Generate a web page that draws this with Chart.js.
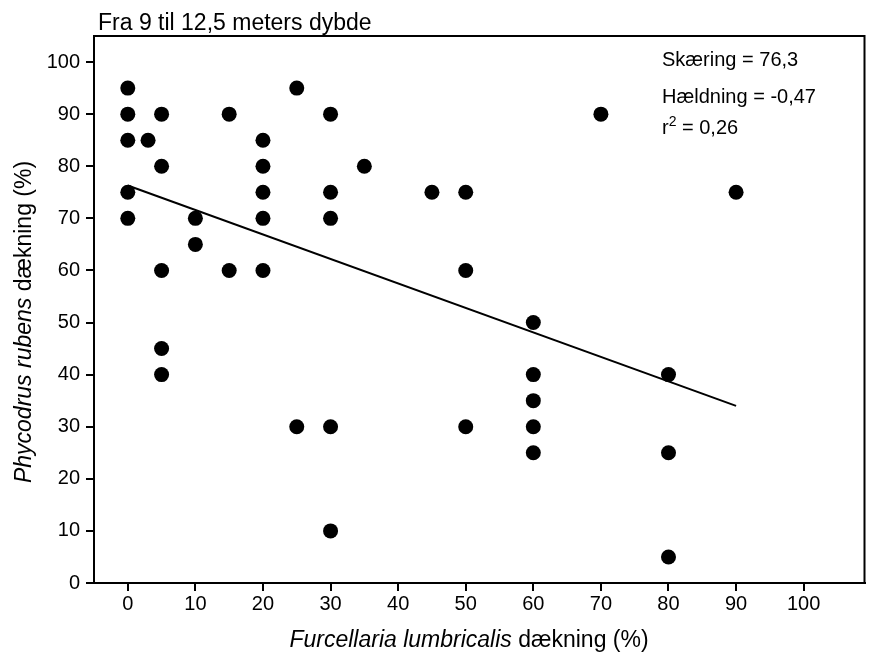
<!DOCTYPE html>
<html>
<head>
<meta charset="utf-8">
<script src="https://cdn.jsdelivr.net/npm/chart.js@4/dist/chart.umd.min.js"></script>
<style>
  body { margin: 0; background: #fff; }
  #wrap { width: 872px; height: 657px; }
</style>
</head>
<body>
<div id="wrap"><canvas id="chart" width="872" height="657"></canvas></div>
<script>
// dækning i procent
const furcellaria = [0, 0, 0, 0, 0, 3, 5, 5, 5, 5, 5, 10, 10, 15, 15, 20, 20, 20, 20, 20,
    25, 25, 30, 30, 30, 30, 30, 35, 45, 50, 50, 50, 60, 60, 60, 60, 60, 70, 80, 80, 80, 90];
const phycodrus = [95, 90, 85, 75, 70, 85, 90, 80, 60, 45, 40, 70, 65, 90, 60, 85, 80, 75, 70, 60,
    95, 30, 90, 75, 70, 30, 10, 80, 75, 75, 60, 30, 50, 40, 35, 30, 25, 90, 40, 25, 5, 75];

// regressionslinje (endepunkter)
const fitX = [0, 90];
const fitY = [76.3, 34.0];

const xTickValues = [0, 10, 20, 30, 40, 50, 60, 70, 80, 90, 100];
const yTickValues = [0, 10, 20, 30, 40, 50, 60, 70, 80, 90, 100];

const titleText = "Fra 9 til 12,5 meters dybde";
const statLines = ["Skæring = 76,3", "Hældning = -0,47"];
const r2Text = " = 0,26";

const FONT = '"Liberation Sans", Arial, Helvetica, sans-serif';

// tekst med blandet kursiv/normal
function drawParts(ctx, parts, size) {
    let w = 0;
    parts.forEach(p => {
        ctx.font = (p.italic ? "italic " : "") + size + "px " + FONT;
        w += ctx.measureText(p.text).width;
    });
    let x = -w / 2;
    parts.forEach(p => {
        ctx.font = (p.italic ? "italic " : "") + size + "px " + FONT;
        ctx.fillText(p.text, x, 0);
        x += ctx.measureText(p.text).width;
    });
}

const decorations = {
    id: "decorations",
    afterDraw(chart) {
        const ctx = chart.ctx;
        const a = chart.chartArea;
        ctx.save();
        ctx.strokeStyle = "#000";
        ctx.lineWidth = 2;
        ctx.strokeRect(a.left, a.top, a.right - a.left, a.bottom - a.top);

        ctx.fillStyle = "#000";
        ctx.textBaseline = "alphabetic";
        ctx.textAlign = "left";
        ctx.font = "23px " + FONT;
        ctx.fillText(titleText, 98, 30);

        ctx.font = "20px " + FONT;
        ctx.fillText(statLines[0], 662, 66);
        ctx.fillText(statLines[1], 662, 103);
        ctx.fillText("r", 662, 134);
        let rw = ctx.measureText("r").width;
        ctx.font = "14px " + FONT;
        ctx.fillText("2", 662 + rw, 126);
        let sw = ctx.measureText("2").width;
        ctx.font = "20px " + FONT;
        ctx.fillText(r2Text, 662 + rw + sw, 134);

        // aksetitler
        ctx.save();
        ctx.translate(469, 647);
        drawParts(ctx, [{ text: "Furcellaria lumbricalis", italic: true }, { text: " dækning (%)" }], 23);
        ctx.restore();

        ctx.save();
        ctx.translate(31, 322);
        ctx.rotate(-Math.PI / 2);
        drawParts(ctx, [{ text: "Phycodrus rubens", italic: true }, { text: " dækning (%)" }], 23);
        ctx.restore();

        ctx.restore();
    }
};

const points = furcellaria.map((x, i) => ({ x: x, y: phycodrus[i] }));
const fitLine = fitX.map((x, i) => ({ x: x, y: fitY[i] }));

new Chart(document.getElementById("chart"), {
    type: "scatter",
    data: {
        datasets: [
            {
                type: "line",
                data: fitLine,
                borderColor: "#000",
                borderWidth: 2,
                pointRadius: 0,
                fill: false,
                tension: 0,
            },
            {
                data: points,
                backgroundColor: "#000",
                borderWidth: 0,
                pointRadius: 7.5,
                pointHoverRadius: 7.5,
            },
        ],
    },
    options: {
        responsive: false,
        animation: false,
        events: [],
        layout: { padding: { top: 36, right: 1, left: 0, bottom: 0 } },
        plugins: {
            legend: { display: false },
            tooltip: { enabled: false },
            title: { display: false },
        },
        scales: {
            x: {
                type: "linear",
                min: -5,
                max: 109,
                afterBuildTicks: (scale) => { scale.ticks = xTickValues.map(v => ({ value: v })); },
                afterFit: (scale) => { scale.height = 74; },
                grid: { drawOnChartArea: false, drawTicks: true, tickLength: 8, color: "#000", lineWidth: 2 },
                border: { display: true, color: "#000", width: 2 },
                ticks: { color: "#000", padding: 1, font: { family: FONT, size: 20 }, maxRotation: 0 },
            },
            y: {
                type: "linear",
                min: 0,
                max: 105,
                afterBuildTicks: (scale) => { scale.ticks = yTickValues.map(v => ({ value: v })); },
                afterFit: (scale) => { scale.width = 94; },
                grid: { drawOnChartArea: false, drawTicks: true, tickLength: 8, color: "#000", lineWidth: 2 },
                border: { display: true, color: "#000", width: 2 },
                ticks: { color: "#000", padding: 6, font: { family: FONT, size: 20 } },
            },
        },
    },
    plugins: [decorations],
});
</script>
</body>
</html>
